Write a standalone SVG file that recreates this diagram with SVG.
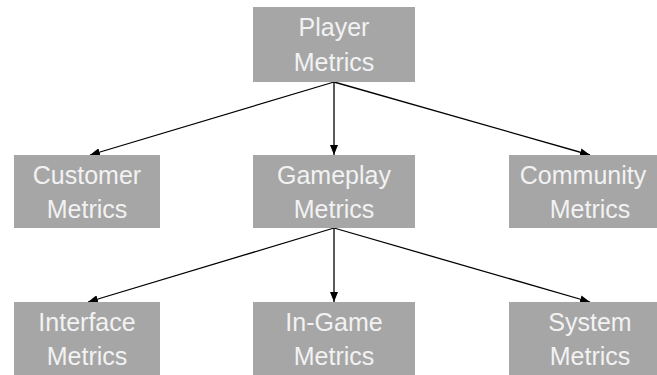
<svg xmlns="http://www.w3.org/2000/svg" width="657" height="375" viewBox="0 0 657 375">
<style>
.box{fill:#a6a6a6}
.t{font-family:"Liberation Sans",Arial,sans-serif;font-size:25px;fill:#f2f2f2;text-anchor:middle}
.c{stroke:#000;stroke-width:1.3;fill:none;marker-end:url(#ah)}
</style>
<defs>
<marker id="ah" markerWidth="10" markerHeight="8" refX="10" refY="4" orient="auto" markerUnits="userSpaceOnUse">
<path d="M0,0 L10,4 L0,8 Z" fill="#000"/>
</marker>
</defs>
<rect width="657" height="375" fill="#fff"/>
<g id="connectors">
<line class="c" x1="334" y1="82" x2="90" y2="155"/>
<line class="c" x1="334" y1="82" x2="334" y2="155"/>
<line class="c" x1="334" y1="82" x2="590" y2="155"/>
<line class="c" x1="334" y1="228" x2="88" y2="302"/>
<line class="c" x1="334" y1="228" x2="334" y2="302"/>
<line class="c" x1="334" y1="228" x2="590" y2="302"/>
</g>
<g id="player"><rect class="box" x="253" y="7" width="162" height="75"/><text class="t" x="334" y="36">Player</text><text class="t" x="334" y="71">Metrics</text></g>
<g id="customer"><rect class="box" x="14" y="155" width="146" height="73"/><text class="t" x="87" y="184">Customer</text><text class="t" x="87" y="218">Metrics</text></g>
<g id="gameplay"><rect class="box" x="253" y="155" width="162" height="73"/><text class="t" x="334" y="184">Gameplay</text><text class="t" x="334" y="218">Metrics</text></g>
<g id="community"><rect class="box" x="509" y="155" width="162" height="73"/><text class="t" x="583" y="184">Community</text><text class="t" x="590" y="218">Metrics</text></g>
<g id="interface"><rect class="box" x="14" y="302" width="146" height="80"/><text class="t" x="87" y="331">Interface</text><text class="t" x="87" y="365">Metrics</text></g>
<g id="ingame"><rect class="box" x="253" y="302" width="162" height="80"/><text class="t" x="334" y="331">In-Game</text><text class="t" x="334" y="365">Metrics</text></g>
<g id="system"><rect class="box" x="509" y="302" width="162" height="80"/><text class="t" x="590" y="331">System</text><text class="t" x="590" y="365">Metrics</text></g>
</svg>
